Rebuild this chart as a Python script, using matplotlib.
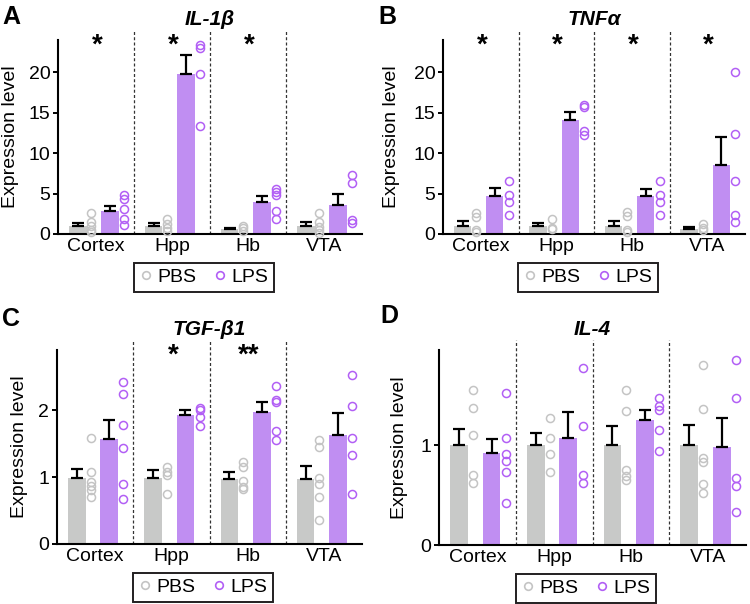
"""Expression levels of cytokines in brain regions, PBS vs LPS."""

import matplotlib
matplotlib.use("Agg")
import matplotlib.pyplot as plt
from matplotlib.lines import Line2D
from matplotlib.transforms import blended_transform_factory

plt.rcParams["font.family"] = ["Liberation Sans", "DejaVu Sans"]

regions = ["Cortex", "Hpp", "Hb", "VTA"]

# IL-1beta
il1b_pbs_mean = [0.98, 0.98, 0.6, 0.95]
il1b_pbs_sem = [0.37, 0.32, 0.15, 0.55]
il1b_lps_mean = [2.8, 19.8, 3.9, 3.55]
il1b_lps_sem = [0.65, 2.35, 0.8, 1.35]
il1b_pbs_pts = [[2.6, 1.5, 1.0, 0.5, 0.2], [1.8, 1.25, 0.75, 0.4],
                [1.05, 0.7, 0.35], [2.6, 1.5, 0.9, 0.5, 0.15]]
il1b_lps_pts = [[4.8, 4.3, 3.1, 1.8, 1.1], [23.4, 23.0, 19.8, 13.3],
                [5.6, 5.2, 4.8, 2.8, 1.8], [7.3, 6.3, 1.75, 1.3]]
il1b_stars = ["*", "*", "*", ""]

# TNF-alpha
tnfa_pbs_mean = [1.05, 0.98, 0.98, 0.66]
tnfa_pbs_sem = [0.58, 0.42, 0.65, 0.16]
tnfa_lps_mean = [4.76, 14.15, 4.67, 8.53]
tnfa_lps_sem = [0.9, 1.0, 0.9, 3.5]
tnfa_pbs_pts = [[2.6, 2.1, 0.55, 0.3], [1.9, 0.8, 0.6],
                [2.7, 2.2, 0.5, 0.2], [1.2, 0.8, 0.5]]
tnfa_lps_pts = [[6.5, 4.8, 3.9, 2.4], [16.0, 15.7, 12.7, 12.3],
                [6.5, 4.8, 3.9, 2.4], [20.0, 12.4, 6.5, 2.3, 1.5]]
tnfa_stars = ["*", "*", "*", "*"]

# TGF-beta1
tgfb_pbs_mean = [0.99, 0.99, 0.97, 0.97]
tgfb_pbs_sem = [0.13, 0.11, 0.1, 0.2]
tgfb_lps_mean = [1.57, 1.93, 1.97, 1.63]
tgfb_lps_sem = [0.29, 0.07, 0.16, 0.33]
tgfb_pbs_pts = [[1.58, 1.08, 0.92, 0.86, 0.8, 0.7], [1.15, 1.07, 1.03, 0.74],
                [1.23, 1.15, 0.94, 0.85, 0.82], [1.55, 1.45, 0.99, 0.89, 0.71, 0.36]]
tgfb_lps_pts = [[2.42, 2.24, 1.78, 1.44, 0.9, 0.68], [2.04, 2.0, 1.9, 1.77],
                [2.36, 2.16, 2.13, 1.69, 1.56], [2.52, 2.06, 1.59, 1.33, 0.75]]
tgfb_stars = ["", "*", "**", ""]

# IL-4
il4_pbs_mean = [1.0, 1.0, 1.0, 1.0]
il4_pbs_sem = [0.16, 0.12, 0.19, 0.2]
il4_lps_mean = [0.92, 1.07, 1.25, 0.98]
il4_lps_sem = [0.14, 0.26, 0.1, 0.29]
il4_pbs_pts = [[1.55, 1.37, 1.1, 0.7, 0.62], [1.27, 1.07, 0.91, 0.73],
               [1.55, 1.34, 0.75, 0.69, 0.65], [1.8, 1.36, 0.87, 0.83, 0.61, 0.52]]
il4_lps_pts = [[1.52, 1.07, 0.91, 0.84, 0.73, 0.42], [1.77, 1.19, 0.70, 0.62],
               [1.47, 1.39, 1.35, 1.15, 0.94], [1.85, 1.47, 0.67, 0.59, 0.33]]
il4_stars = ["", "", "", ""]

GRAY_BAR = "#c8c9c8"
GRAY_PT = "#c4c4c4"
PURPLE_BAR = "#c08ef2"
PURPLE_PT = "#b25ff5"

W, H = 750, 604


def draw_panel(rect, letter, title, ymax, yticks,
               pbs_mean, pbs_sem, pbs_pts, lps_mean, lps_sem, lps_pts, stars,
               label_x, legend_x):
    fig = plt.gcf()
    ax = fig.add_axes(rect)
    n = len(regions)
    pbs_x = [i + 0.26 for i in range(n)]
    lps_x = [i + 0.685 for i in range(n)]
    ax.bar(pbs_x, pbs_mean, width=0.23, color=GRAY_BAR, zorder=2)
    ax.bar(lps_x, lps_mean, width=0.23, color=PURPLE_BAR, zorder=2)
    ax.errorbar(pbs_x, pbs_mean, yerr=[[0] * n, pbs_sem], fmt="none",
                ecolor="black", elinewidth=1.6, capsize=4.5, capthick=1.6, zorder=3)
    ax.errorbar(lps_x, lps_mean, yerr=[[0] * n, lps_sem], fmt="none",
                ecolor="black", elinewidth=1.6, capsize=4.5, capthick=1.6, zorder=3)
    for i in range(n):
        ax.plot([i + 0.44] * len(pbs_pts[i]), pbs_pts[i], "o", ms=5.8,
                mfc="none", mec=GRAY_PT, mew=1.1, zorder=4, clip_on=False)
        ax.plot([i + 0.87] * len(lps_pts[i]), lps_pts[i], "o", ms=5.8,
                mfc="none", mec=PURPLE_PT, mew=1.1, zorder=4, clip_on=False)
    for i in range(1, n):
        ax.axvline(i, ymin=0, ymax=1.05, color="#333333", lw=0.9,
                   ls=(0, (2.4, 1.8)), clip_on=False, zorder=1)
    trans = blended_transform_factory(ax.transData, ax.transAxes)
    for i, s in enumerate(stars):
        if s:
            ax.text(i + 0.52, 0.936, s, transform=trans, ha="center",
                    va="baseline", fontsize=20, fontweight="bold")

    ax.set_xlim(0, n)
    ax.set_ylim(0, ymax)
    ax.set_yticks(yticks)
    ax.set_xticks([i + 0.5 for i in range(n)])
    ax.set_xticklabels(regions, fontsize=14)
    ax.tick_params(axis="x", length=0, pad=3)
    ax.tick_params(axis="y", length=3.5, width=1.4, labelsize=14, pad=2)
    for side in ("top", "right"):
        ax.spines[side].set_visible(False)
    for side in ("left", "bottom"):
        ax.spines[side].set_linewidth(1.5)
    ax.set_ylabel("Expression level", fontsize=14)
    ax.yaxis.set_label_coords(label_x, 0.5)
    ax.set_title(title, fontsize=15, fontweight="bold", style="italic", pad=11)

    handles = [
        Line2D([], [], ls="none", marker="o", ms=5.5, mfc="none", mec=GRAY_PT, mew=1.2),
        Line2D([], [], ls="none", marker="o", ms=5.5, mfc="none", mec=PURPLE_PT, mew=1.2),
    ]
    leg = ax.legend(handles, ["PBS", "LPS"], ncol=2, loc="upper center",
                    bbox_to_anchor=(legend_x, -0.148), fontsize=14,
                    frameon=True, fancybox=False, framealpha=1,
                    handlelength=0.6, handletextpad=0.3, columnspacing=0.9,
                    borderpad=0.3, borderaxespad=0)
    leg.get_frame().set_edgecolor("#231f20")
    leg.get_frame().set_linewidth(1.4)

    fig.text(letter[1] / W, 1 - letter[2] / H, letter[0], fontsize=18,
             fontweight="bold", ha="left", va="baseline")
    return ax


fig = plt.figure(figsize=(7.5, 6.04), dpi=100)

draw_panel([58 / W, 370 / H, 304 / W, 194 / H], ("A", 2, 24), "IL-1β", 24,
           [0, 5, 10, 15, 20], il1b_pbs_mean, il1b_pbs_sem, il1b_pbs_pts,
           il1b_lps_mean, il1b_lps_sem, il1b_lps_pts, il1b_stars, -0.128, 0.48)
draw_panel([443 / W, 370 / H, 302 / W, 194 / H], ("B", 378, 24), "TNFα", 24,
           [0, 5, 10, 15, 20], tnfa_pbs_mean, tnfa_pbs_sem, tnfa_pbs_pts,
           tnfa_lps_mean, tnfa_lps_sem, tnfa_lps_pts, tnfa_stars, -0.141, 0.48)
draw_panel([57 / W, 60 / H, 305 / W, 194 / H], ("C", 2, 326), "TGF-β1", 2.9,
           [0, 1, 2], tgfb_pbs_mean, tgfb_pbs_sem, tgfb_pbs_pts,
           tgfb_lps_mean, tgfb_lps_sem, tgfb_lps_pts, tgfb_stars, -0.095, 0.48)
draw_panel([439 / W, 59 / H, 307 / W, 195 / H], ("D", 380, 323), "IL-4", 1.95,
           [0, 1], il4_pbs_mean, il4_pbs_sem, il4_pbs_pts,
           il4_lps_mean, il4_lps_sem, il4_lps_pts, il4_stars, -0.10, 0.48)

fig.savefig("out.png", dpi=100)
plt.close(fig)
